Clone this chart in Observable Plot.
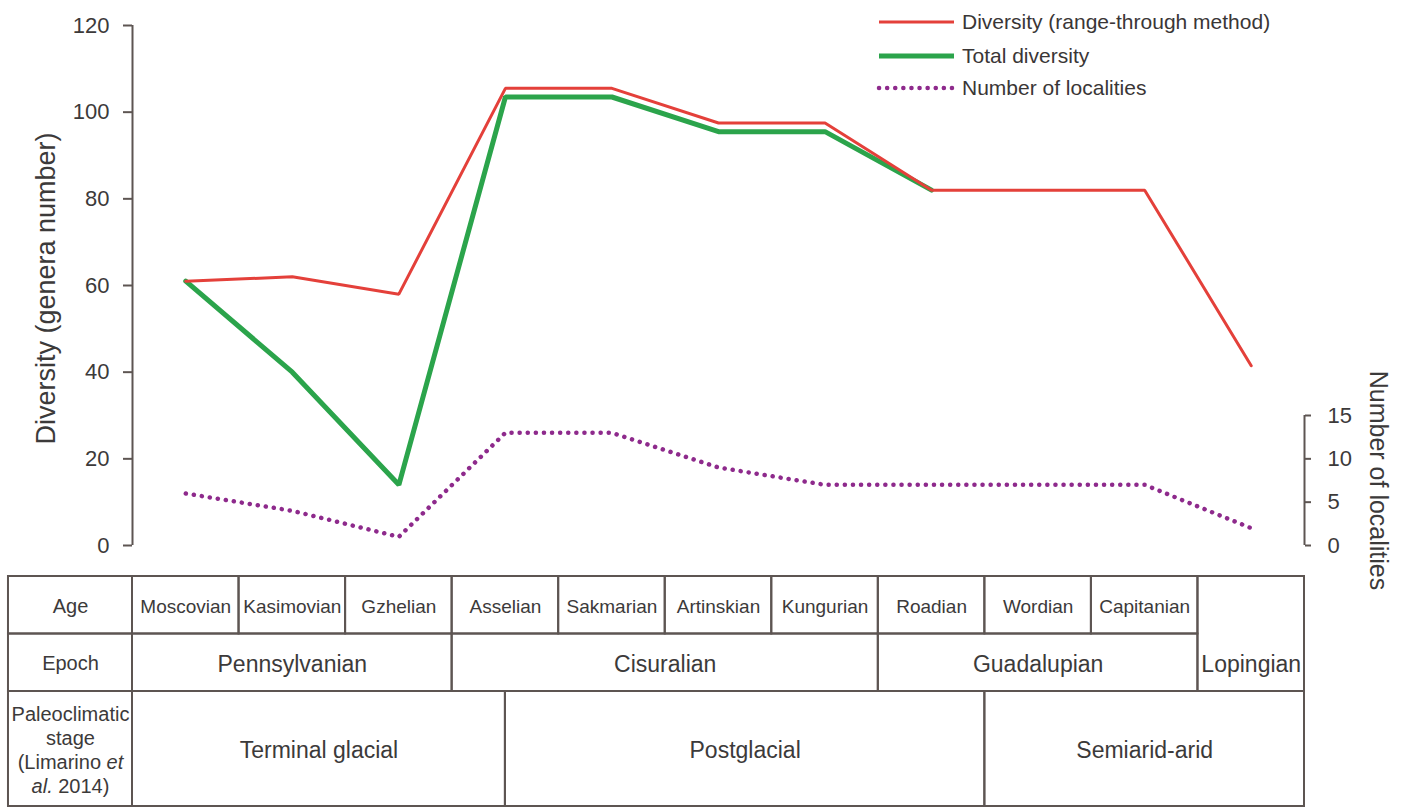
<!DOCTYPE html>
<html>
<head>
<meta charset="utf-8">
<script src="https://cdn.jsdelivr.net/npm/d3@7"></script>
<script src="https://cdn.jsdelivr.net/npm/@observablehq/plot@0.6"></script>
<style>
  html, body { margin: 0; padding: 0; background: #fff; overflow: hidden; }
  body { font-family: "Liberation Sans", Arial, Helvetica, sans-serif; }
  #wrap { position: relative; width: 1409px; height: 808px; overflow: hidden; }
  #wrap > svg { display: block; }
  .legend { position: absolute; left: 876px; top: 5px; color: #3a3636; font-size: 21px; }
  .legend .row { display: flex; align-items: center; height: 34px; }
  .legend .row:last-child { height: 30px; }
  .legend svg { margin-right: 6px; display: block; }
</style>
</head>
<body>
<div id="wrap"></div>
<script>
// Stratigraphic intervals (Late Pennsylvanian – Permian)
const ages = ["Moscovian", "Kasimovian", "Gzhelian", "Asselian", "Sakmarian",
              "Artinskian", "Kungurian", "Roadian", "Wordian", "Capitanian"];
const epochs = ["Pennsylvanian", "Cisuralian", "Guadalupian", "Lopingian"];
const epochOfAge = [0, 0, 0, 1, 1, 1, 1, 2, 2, 2];
// The Lopingian is plotted as one undivided interval after the Capitanian
const intervals = [...ages, "Lopingian"];

// Diversity (genera) and number of localities per interval
const rangeThrough   = [61, 62, 58, 105.5, 105.5, 97.5, 97.5, 82, 82, 82, 41.5];
const totalDiversity = [61, 40, 14, 103.5, 103.5, 95.5, 95.5, 82, 82, 82, 41.5];
const localities     = [6, 4, 1, 13, 13, 9, 7, 7, 7, 7, 2];

const diversityTicks = [0, 20, 40, 60, 80, 100, 120];
const localityTicks = [0, 5, 10, 15];

// Paleoclimatic stages (Limarino et al. 2014), bounds in interval units
const paleoStages = ["Terminal glacial", "Postglacial", "Semiarid-arid"];
const paleoBounds = [-0.5, 3, 7.5, 10.5];

const rowLabels = ["Age", "Epoch", "Paleoclimatic\nstage\n(Limarino et\nal. 2014)"];

// ---- styling ----
const axisColor = "#5d5552";
const textColor = "#3c3a3a";
const red = "#e4403a";
const green = "#2ba44b";
const purple = "#8e2a8c";
const font = "'Liberation Sans', Arial, Helvetica, sans-serif";

// localities share the diversity y scale: 15 localities ↔ 30 genera
const locRatio = 2;
const xScale = {domain: [-0.5, 10.5], range: [132, 1304], axis: null};

const series = intervals.map((name, i) => ({
  i, name, rt: rangeThrough[i], td: totalDiversity[i], loc: localities[i] * locRatio
}));

// from the Roadian on both diversity curves coincide; only the red one is drawn there
const mergeIndex = series.findIndex((d, i) => series.slice(i).every(e => e.rt === e.td) && i > 0);

const chart = Plot.plot({
  width: 1409,
  height: 560,
  marginTop: 25, marginBottom: 15, marginLeft: 132, marginRight: 105,
  x: xScale,
  y: {domain: [0, 120], range: [545, 25]},
  style: {fontFamily: font, fontSize: "22px", color: textColor, background: "#fff", overflow: "visible"},
  marks: [
    // left axis (diversity)
    Plot.ruleX([-0.5], {y1: 0, y2: 120, stroke: axisColor, strokeWidth: 2}),
    Plot.axisY(diversityTicks, {
      anchor: "left", tickSize: 9, tickPadding: 14, stroke: axisColor, strokeWidth: 2,
      fill: textColor, fontSize: 22, label: null
    }),
    Plot.text(["Diversity (genera number)"], {
      frameAnchor: "left", textAnchor: "middle", dx: -86, dy: 3, rotate: -90, fontSize: 27, fill: textColor
    }),
    // right axis (number of localities)
    Plot.ruleX([10.5], {y1: 0, y2: localityTicks[localityTicks.length - 1] * locRatio, stroke: axisColor, strokeWidth: 2}),
    Plot.axisY(localityTicks.map(t => t * locRatio), {
      anchor: "right", tickSize: 6, tickPadding: 17, stroke: axisColor, strokeWidth: 2,
      fill: textColor, fontSize: 22, tickFormat: d => d / locRatio, label: null
    }),
    Plot.text(["Number of localities"], {
      x: 10.5, y: 7.5 * locRatio, dx: 73, rotate: 90, fontSize: 25, fill: textColor
    }),
    // series
    Plot.line(series, {
      filter: d => d.i <= mergeIndex,
      x: "i", y: "td", stroke: green, strokeWidth: 5, strokeLinejoin: "miter"
    }),
    Plot.line(series, {x: "i", y: "rt", stroke: red, strokeWidth: 3, strokeLinejoin: "miter"}),
    Plot.line(series, {
      x: "i", y: "loc", stroke: purple, strokeWidth: 4.5,
      strokeDasharray: "0.1 8", strokeLinecap: "round"
    })
  ]
});

// ---- stratigraphic table beneath the chart ----
const labelColumn = 1.164; // width of the row-label column, in interval units
const cells = [];
rowLabels.forEach((t, r) => {
  const [y1, y2] = r < 2 ? [r, r + 1] : [2, 4];
  cells.push({x1: -0.5 - labelColumn, x2: -0.5, y1, y2, ty: (y1 + y2) / 2, text: t, size: 20});
});
ages.forEach((a, i) => cells.push({x1: i - 0.5, x2: i + 0.5, y1: 0, y2: 1, ty: 0.5, text: a, size: 19}));
epochs.forEach((e, k) => {
  const idx = intervals.map((_, i) => i).filter(i => (i < ages.length ? epochOfAge[i] : epochs.length - 1) === k);
  const undivided = idx.every(i => i >= ages.length);
  cells.push({
    x1: idx[0] - 0.5, x2: idx[idx.length - 1] + 0.5,
    y1: undivided ? 0 : 1, y2: 2, ty: 1.5, text: e, size: 23
  });
});
paleoStages.forEach((p, k) => cells.push({
  x1: paleoBounds[k], x2: paleoBounds[k + 1], y1: 2, y2: 4, ty: 3, text: p, size: 23
}));

const table = Plot.plot({
  width: 1409,
  height: 248,
  margin: 0,
  x: xScale,
  y: {domain: [0, 4], range: [16, 246], axis: null},
  style: {fontFamily: font, color: textColor, background: "#fff", overflow: "visible"},
  marks: [
    Plot.rect(cells, {x1: "x1", x2: "x2", y1: "y1", y2: "y2", fill: "none", stroke: axisColor, strokeWidth: 2}),
    Plot.text(cells, {
      x: d => (d.x1 + d.x2) / 2, y: "ty", text: "text", fontSize: d => d.size,
      fill: textColor, lineHeight: 1.2
    })
  ]
});

// italicise "et al." in the citation
table.querySelectorAll("tspan, text").forEach(el => {
  if (el.children.length) return;
  const s = el.textContent;
  if (s === "(Limarino et") {
    el.textContent = "(Limarino ";
    const it = document.createElementNS("http://www.w3.org/2000/svg", "tspan");
    it.setAttribute("font-style", "italic");
    it.textContent = "et";
    el.appendChild(it);
  } else if (s === "al. 2014)") {
    el.textContent = "";
    const it = document.createElementNS("http://www.w3.org/2000/svg", "tspan");
    it.setAttribute("font-style", "italic");
    it.textContent = "al.";
    el.appendChild(it);
    el.appendChild(document.createTextNode(" 2014)"));
  }
});

// ---- legend ----
const legendItems = [
  {label: "Diversity (range-through method)", color: red, width: 3, dash: null},
  {label: "Total diversity", color: green, width: 5, dash: null},
  {label: "Number of localities", color: purple, width: 4.5, dash: "0.1 8"}
];
const legend = document.createElement("div");
legend.className = "legend";
legendItems.forEach(it => {
  const row = document.createElement("div");
  row.className = "row";
  const sw = d3.create("svg").attr("width", 80).attr("height", 12);
  sw.append("line").attr("x1", 3).attr("x2", 78).attr("y1", 6).attr("y2", 6)
    .attr("stroke", it.color).attr("stroke-width", it.width)
    .attr("stroke-linecap", it.dash ? "round" : "butt")
    .attr("stroke-dasharray", it.dash);
  row.appendChild(sw.node());
  const span = document.createElement("span");
  span.textContent = it.label;
  row.appendChild(span);
  legend.appendChild(row);
});

const wrap = document.getElementById("wrap");
wrap.appendChild(chart);
wrap.appendChild(table);
wrap.appendChild(legend);
</script>
</body>
</html>
